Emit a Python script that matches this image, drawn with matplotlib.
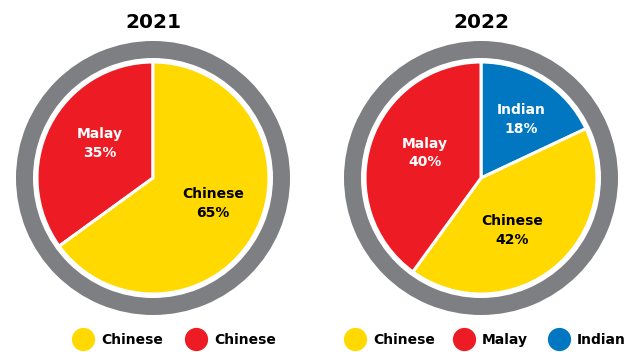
import numpy as np
import matplotlib
matplotlib.use("Agg")
import matplotlib.pyplot as plt

# ---- data ----
years = ["2021", "2022"]
cats_2021 = ["Malay", "Chinese"]
vals_2021 = [35, 65]
cols_2021 = ["#ED1C24", "#FFD900"]
cats_2022 = ["Indian", "Chinese", "Malay"]
vals_2022 = [18, 42, 40]
cols_2022 = ["#0077C0", "#FFD900", "#ED1C24"]
label_colors_2021 = ["white", "black"]
label_colors_2022 = ["white", "black", "white"]
legend_2021 = ["Chinese", "Chinese"]
legend_cols_2021 = ["#FFD900", "#ED1C24"]
legend_2022 = ["Chinese", "Malay", "Indian"]
legend_cols_2022 = ["#FFD900", "#ED1C24", "#0077C0"]

W, H = 632, 352
fig = plt.figure(figsize=(W / 100, H / 100), dpi=100)
ax = fig.add_axes([0, 0, 1, 1])

FONT = "DejaVu Sans"
GRAY = "#7E7F82"

def draw(cx, cy, title, cats, vals, cols, lcols, startangle, counterclock, ldist, aoff):
    # outer ring
    ax.pie([1], colors=[GRAY], radius=137, center=(cx, cy), frame=True,
           wedgeprops=dict(width=17, linewidth=0))
    wedges, _ = ax.pie(vals, colors=cols, radius=116, center=(cx, cy), frame=True,
                       startangle=startangle, counterclock=counterclock,
                       wedgeprops=dict(edgecolor="white", linewidth=2.2))
    for w, c, v, lc, d, o in zip(wedges, cats, vals, lcols, ldist, aoff):
        ang = np.deg2rad((w.theta1 + w.theta2) / 2 + o)
        ax.text(cx + d * 116 * np.cos(ang), cy + d * 116 * np.sin(ang),
                f"{c}\n{v}%", ha="center", va="center", color=lc,
                fontsize=10, fontweight="bold", family=FONT, linespacing=1.45)
    ax.text(cx, H - 22, title, ha="center", va="center", fontsize=14.5,
            fontweight="bold", family=FONT)

draw(153, H - 178, years[0], cats_2021, vals_2021, cols_2021, label_colors_2021,
     90, True, [0.55, 0.56], [-6, 4])
draw(481, H - 178, years[1], cats_2022, vals_2022, cols_2022, label_colors_2022,
     90, False, [0.61, 0.53, 0.53], [-2, -9, -6])

def legend(xs, labels, colors):
    for x, lab, c in zip(xs, labels, colors):
        ax.scatter([x], [H - 339], s=280, color=c, linewidths=0, zorder=5)
        ax.text(x + 18, H - 340, lab, ha="left", va="center", fontsize=10,
                fontweight="bold", family=FONT)

legend([83, 196], legend_2021, legend_cols_2021)
legend([355, 464, 559], legend_2022, legend_cols_2022)

ax.set_xlim(0, W)
ax.set_ylim(0, H)
ax.set_aspect("equal")
ax.axis("off")
fig.savefig("out.png", dpi=100, facecolor="white")
